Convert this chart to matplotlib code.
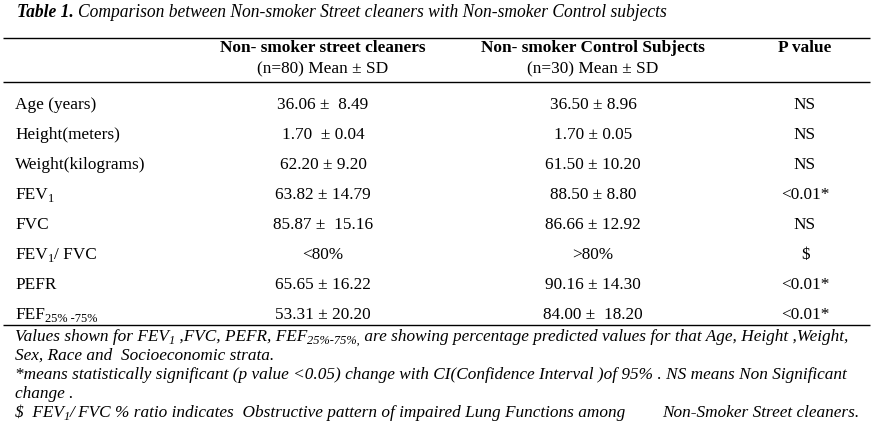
import matplotlib
matplotlib.use("Agg")
import matplotlib.pyplot as plt

plt.rcParams["font.family"] = ["Liberation Serif", "DejaVu Serif"]

# Table content (segments marked with 1 are subscripts)
title_bold = "Table 1."
title_rest = "Comparison between Non-smoker Street cleaners with Non-smoker Control subjects"
col_heads = ["Non- smoker street cleaners", "Non- smoker Control Subjects", "P value"]
col_subs = ["(n=80) Mean ± SD", "(n=30) Mean ± SD", ""]
row_labels = [
    [("Age (years)", 0)],
    [("Height(meters)", 0)],
    [("Weight(kilograms)", 0)],
    [("FEV", 0), ("1", 1)],
    [("FVC", 0)],
    [("FEV", 0), ("1", 1), ("/ FVC", 0)],
    [("PEFR", 0)],
    [("FEF", 0), ("25% -75%", 1)],
]
cleaners = ["36.06 ±  8.49", "1.70  ± 0.04", "62.20 ± 9.20", "63.82 ± 14.79",
            "85.87 ±  15.16", "<80%", "65.65 ± 16.22", "53.31 ± 20.20"]
controls = ["36.50 ± 8.96", "1.70 ± 0.05", "61.50 ± 10.20", "88.50 ± 8.80",
            "86.66 ± 12.92", ">80%", "90.16 ± 14.30", "84.00 ±  18.20"]
p_values = ["NS", "NS", "NS", "<0.01*", "NS", "$", "<0.01*", "<0.01*"]
notes = [
    [("Values shown for FEV", 0), ("1", 1), (" ,FVC, PEFR, FEF", 0), ("25%-75%,", 1),
     (" are showing percentage predicted values for that Age, Height ,Weight,", 0)],
    [("Sex, Race and  Socioeconomic strata.", 0)],
    [("*means statistically significant (p value <0.05) change with CI(Confidence Interval )of 95% . NS means Non Significant", 0)],
    [("change .", 0)],
    [("$  FEV", 0), ("1", 1), ("/ FVC % ratio indicates  Obstructive pattern of impaired Lung Functions among", 0)],
]
note_tail = "Non-Smoker Street cleaners."

W, H = 881, 426
fig = plt.figure(figsize=(W / 100, H / 100), dpi=100)
ax = fig.add_axes([0, 0, 1, 1])
ax.set_xlim(0, W)
ax.set_ylim(H, 0)
ax.axis("off")
renderer = fig.canvas.get_renderer()

fs = 12.4
col_x = [323, 593, 805]
label_x = 15
row_y0, row_dy = 109, 30


def draw_runs(x, y, runs, size, sub_dy=3, **kw):
    """Draw text pieces one after another, subscripts smaller and lowered."""
    for s, sub in runs:
        t = ax.text(x, y + (sub_dy if sub else 0), s, fontsize=size * (0.72 if sub else 1.0),
                    va="baseline", ha="left", parse_math=False, **kw)
        x += t.get_window_extent(renderer).width  # pixels == data units here
    return x


# title
x_end = draw_runs(17, 17, [(title_bold + " ", 0)], 12.65, fontweight="bold", fontstyle="italic")
draw_runs(x_end, 17, [(title_rest, 0)], 12.65, fontstyle="italic")

# rules
for y in [37.5, 82, 324.5]:
    ax.plot([3, 870], [y, y], color="black", lw=1.0, solid_capstyle="butt")

# header
for x, h, s in zip(col_x, col_heads, col_subs):
    ax.text(x, 48, h, fontsize=fs, fontweight="bold", ha="center", va="center")
    if s:
        ax.text(x, 69.5, s, fontsize=fs, ha="center", va="center")

# body
for i, (lab, a, b, p) in enumerate(zip(row_labels, cleaners, controls, p_values)):
    y = row_y0 + i * row_dy
    draw_runs(label_x, y, lab, fs)
    for x, v in zip(col_x, [a, b, p]):
        ax.text(x, y, v, fontsize=fs, ha="center", va="baseline", parse_math=False)

# footnotes
note_y = [341, 360, 379, 398, 417]
for y, n in zip(note_y, notes):
    draw_runs(label_x, y, n, fs, sub_dy=2.5, fontstyle="italic")
ax.text(662, note_y[-1], note_tail, fontsize=fs, fontstyle="italic", va="baseline")

fig.savefig("out.png", dpi=100)
